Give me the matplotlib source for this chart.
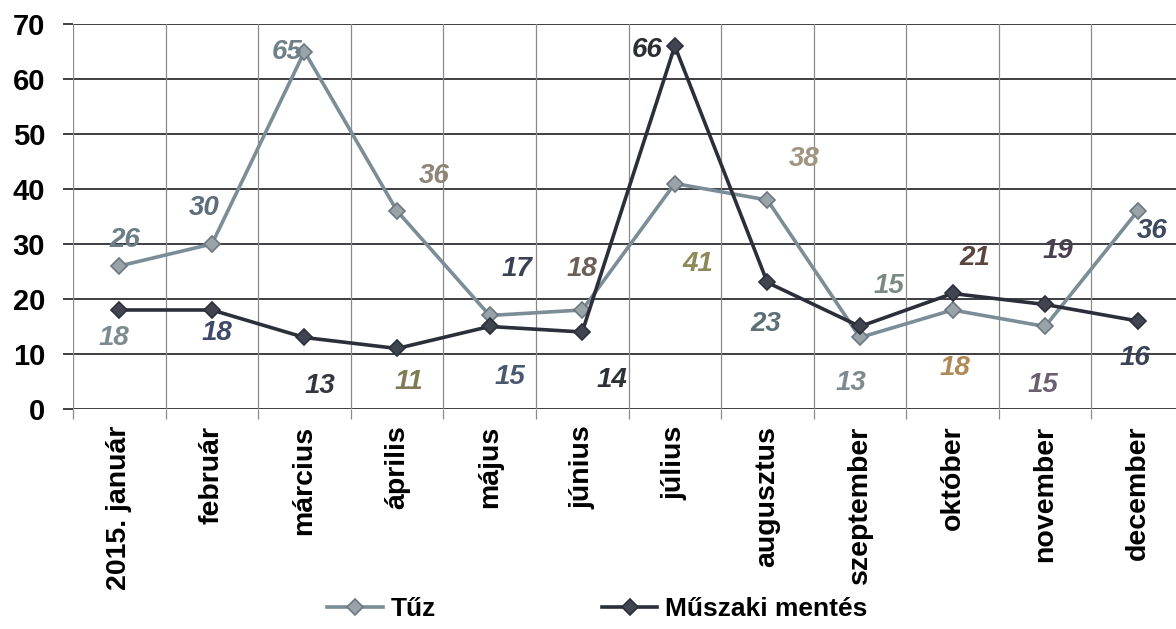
#!/usr/bin/env python3
"""
Monthly call-outs in 2015: fire (Tűz) and technical rescue (Műszaki mentés).
Line chart with diamond markers and value labels.
"""

import matplotlib.pyplot as plt
import numpy as np

plt.rcParams['font.family'] = ['Liberation Sans', 'DejaVu Sans']

# Data
months = ['2015. január', 'február', 'március', 'április', 'május', 'június',
          'július', 'augusztus', 'szeptember', 'október', 'november', 'december']
tuz = [26, 30, 65, 36, 17, 18, 41, 38, 13, 18, 15, 36]
muszaki = [18, 18, 13, 11, 15, 14, 66, 23, 15, 21, 19, 16]

# Label placement (pixel offsets from the point) and colours, as in the scan
tuz_offsets = [(5, 26), (-8, 36), (-17, 0), (37, 35), (27, 46), (0, 41),
               (23, -80), (37, 41), (-9, -46), (2, -58), (-2, -59), (14, -20)]
tuz_label_colors = ['#6d7f86', '#5f6d7a', '#6f8088', '#8c8578', '#3b4152', '#6b5f5a',
                    '#8d8a5a', '#a09580', '#7e8a8c', '#b08a55', '#6a6070', '#3f4a60']
mus_offsets = [(-5, -28), (5, -23), (15, -49), (12, -34), (20, -51), (30, -48),
               (-28, -4), (-2, -42), (29, 40), (22, 35), (13, 53), (-3, -37)]
mus_label_colors = ['#7d8a90', '#3f4a68', '#33363f', '#807a55', '#4a5870', '#2e3038',
                    '#2c2e36', '#5d7078', '#7a8a80', '#5a4540', '#4a4050', '#3a4258']

x = np.arange(len(months))

fig = plt.figure(figsize=(11.76, 6.29), dpi=100)
ax = fig.add_axes([0.0621, 0.3498, 0.9447, 0.612])

# Grid
for v in range(0, 71, 10):
    ax.axhline(v, color='#2e2e34', linewidth=1.3, zorder=1)
for b in np.arange(-0.5, 12.0, 1.0):
    ax.axvline(b, color='#8a8a8a', linewidth=0.9, zorder=1)

# Lines
ax.plot(x, tuz, color='#7b8d96', linewidth=2.6, marker='D', markersize=8,
        markerfacecolor='#9aa4a8', markeredgecolor='#6b7880', markeredgewidth=1.2,
        label='Tűz', zorder=3)
ax.plot(x, muszaki, color='#2b2f3a', linewidth=2.6, marker='D', markersize=8,
        markerfacecolor='#40454f', markeredgecolor='#2b2f3a', markeredgewidth=1.2,
        label='Műszaki mentés', zorder=4)

# Value labels
for xi, v, off, c in zip(x, tuz, tuz_offsets, tuz_label_colors):
    ax.annotate(str(v), (xi, v), xytext=off, textcoords='offset pixels',
                ha='center', va='center', fontsize=20, fontweight='bold',
                fontstyle='italic', color=c, zorder=5)
for xi, v, off, c in zip(x, muszaki, mus_offsets, mus_label_colors):
    ax.annotate(str(v), (xi, v), xytext=off, textcoords='offset pixels',
                ha='center', va='center', fontsize=20, fontweight='bold',
                fontstyle='italic', color=c, zorder=5)

# Axes
ax.set_xlim(-0.5, 11.5)
ax.set_ylim(0, 70)
ax.set_yticks(range(0, 71, 10))
ax.set_xticks(x)
ax.set_xticklabels(months, rotation=90, fontsize=20.5, fontweight='bold', va='top')
ax.set_xticks(np.arange(-0.5, 12.0, 1.0), minor=True)
ax.tick_params(axis='x', which='major', length=0, pad=12)
ax.tick_params(axis='x', which='minor', length=7, width=0.9, color='#8a8a8a')
ax.tick_params(axis='y', length=7, width=1.3, color='#2e2e34', pad=13,
               labelsize=21)
for lbl in ax.get_yticklabels():
    lbl.set_fontweight('bold')
for s in ax.spines.values():
    s.set_visible(False)

fig.legend(loc='center', bbox_to_anchor=(0.508, 0.032), ncol=2, frameon=False,
           prop={'size': 19, 'weight': 'bold'}, handlelength=2.1,
           handletextpad=0.3, columnspacing=6.3)

plt.savefig('out.png', dpi=100)
plt.close()
